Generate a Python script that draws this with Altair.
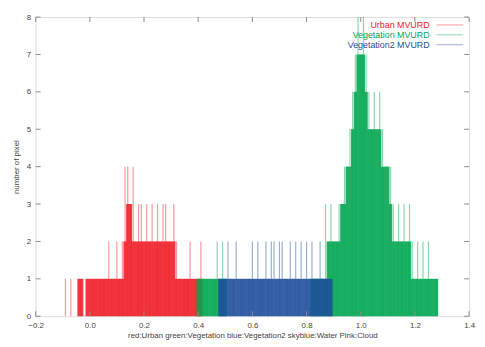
import altair as alt
import pandas as pd

# ---- data ----
series_names = ["Urban MVURD", "Vegetation MVURD", "Vegetation2 MVURD"]
series_colors = ["#ee1c25", "#00a650", "#1f4e9c"]

urban_x = [-0.09, -0.07, -0.04, -0.03, -0.01, 0.00, 0.01, 0.02, 0.03, 0.04, 0.05, 0.06,
           0.07, 0.08, 0.09, 0.10, 0.11, 0.12, 0.13, 0.14, 0.15, 0.16, 0.17, 0.18, 0.19,
           0.20, 0.21, 0.22, 0.23, 0.24, 0.25, 0.26, 0.27, 0.28, 0.29, 0.30, 0.31, 0.32,
           0.33, 0.34, 0.35, 0.36, 0.37, 0.38, 0.39, 0.40, 0.41]
urban_n = [1, 1, 1, 1, 1, 1, 1, 1, 1, 1, 1, 1,
           2, 1, 1, 2, 1, 2, 4, 4, 3, 4, 2, 3, 3,
           2, 3, 2, 3, 2, 3, 2, 3, 3, 2, 2, 3, 2,
           1, 1, 1, 1, 2, 1, 1, 1, 2]

veg_x = [0.40, 0.41, 0.42, 0.43, 0.44, 0.45, 0.46, 0.47, 0.48, 0.49, 0.50,
         0.82, 0.83, 0.84, 0.85, 0.86, 0.87, 0.88, 0.89, 0.90, 0.91, 0.92, 0.93,
         0.94, 0.95, 0.96, 0.97, 0.98, 0.99, 1.00, 1.01, 1.02, 1.03, 1.04, 1.05,
         1.06, 1.07, 1.08, 1.09, 1.10, 1.11, 1.12, 1.13, 1.14, 1.15, 1.16, 1.17,
         1.18, 1.19, 1.20, 1.21, 1.22, 1.23, 1.24, 1.25, 1.26, 1.27, 1.28]
veg_n = [1, 1, 1, 1, 1, 1, 1, 2, 1, 2, 1,
         1, 1, 1, 1, 1, 3, 2, 3, 2, 2, 3, 3,
         4, 4, 5, 6, 7, 8, 7, 8, 7, 6, 5, 6,
         5, 6, 5, 4, 4, 4, 3, 2, 3, 2, 3, 2,
         3, 2, 1, 2, 1, 2, 1, 2, 1, 1, 1]

veg2_x = [0.48, 0.49, 0.50, 0.51, 0.52, 0.53, 0.54, 0.55, 0.56, 0.57, 0.58, 0.59,
          0.60, 0.61, 0.62, 0.63, 0.64, 0.65, 0.66, 0.67, 0.68, 0.69, 0.70, 0.71,
          0.72, 0.73, 0.74, 0.75, 0.76, 0.77, 0.78, 0.79, 0.80, 0.81, 0.82, 0.83,
          0.84, 0.85, 0.86, 0.87, 0.88, 0.89]
veg2_n = [1, 1, 1, 2, 1, 1, 2, 1, 1, 1, 1, 1,
          2, 1, 2, 1, 1, 2, 1, 2, 2, 1, 2, 2,
          1, 1, 2, 1, 2, 1, 2, 1, 2, 1, 2, 1,
          1, 2, 1, 1, 1, 1]

x_ticks = [-0.2, 0, 0.2, 0.4, 0.6, 0.8, 1, 1.2, 1.4]
y_ticks = [0, 1, 2, 3, 4, 5, 6, 7, 8]

x_title = "red:Urban green:Vegetation blue:Vegetation2 skyblue:Water Pink:Cloud"
y_title = "number of pixel"

assert len(urban_x) == len(urban_n)
assert len(veg_x) == len(veg_n)
assert len(veg2_x) == len(veg2_n)

rows = []
for name, xs, ns in zip(series_names, [urban_x, veg_x, veg2_x], [urban_n, veg_n, veg2_n]):
    for xv, nv in zip(xs, ns):
        rows.append({"series": name, "x": xv, "n": nv})
df = pd.DataFrame(rows)

W, H = 439, 303
FONT = "Liberation Sans"
GRAY = "#8a8a8a"
TXT = "#444444"

xscale = alt.Scale(domain=[-0.2, 1.4], nice=False, zero=False)
yscale = alt.Scale(domain=[0, 8], nice=False)
cscale = alt.Scale(domain=series_names, range=series_colors)

x_axis = alt.Axis(values=x_ticks, title=x_title, grid=False, ticks=False,
                  domain=False, labelFontSize=8, labelPadding=5, labelOverlap=False,
                  titleFontSize=8, titlePadding=3, labelColor=TXT,
                  titleColor=TXT, titleFontWeight="normal",
                  labelFont=FONT, titleFont=FONT, labelFlush=False)
y_axis = alt.Axis(values=y_ticks, title=y_title, grid=False, ticks=False,
                  domain=False, labelFontSize=8, labelPadding=5, labelOverlap=False,
                  titleFontSize=8, titlePadding=6, labelColor=TXT,
                  titleColor=TXT, titleFontWeight="normal",
                  labelFont=FONT, titleFont=FONT, format="d")

# neighbour-aware level: where adjacent impulses reach the same level it looks solid
base = alt.Chart(df).transform_window(
    lagn="lag(n)", leadn="lead(n)", lagx="lag(x)", leadx="lead(x)",
    groupby=["series"], sort=[alt.SortField("x")],
).transform_calculate(
    nl="(datum.lagx != null && datum.x - datum.lagx < 0.015) ? datum.lagn : 0",
    nr="(datum.leadx != null && datum.leadx - datum.x < 0.015) ? datum.leadn : 0",
).transform_calculate(
    solidn=("(datum.nl > 0 && datum.nr > 0) ? min(datum.n, datum.nl, datum.nr) : "
            "((datum.nl > 0 || datum.nr > 0) ? min(datum.n, max(datum.nl, datum.nr)) : 0)"),
)

solid = base.mark_rule(strokeWidth=3.3, opacity=0.85).encode(
    x=alt.X("x:Q", scale=xscale, axis=x_axis),
    y=alt.Y("solidn:Q", scale=yscale, axis=y_axis),
    y2=alt.datum(0),
    color=alt.Color("series:N", scale=cscale, legend=None),
)
# thin pale impulse lines reaching each full count
thin = base.mark_rule(strokeWidth=1.2, opacity=0.45).encode(
    x=alt.X("x:Q", scale=xscale, axis=x_axis),
    y=alt.Y("n:Q", scale=yscale, axis=y_axis),
    y2=alt.datum(0),
    color=alt.Color("series:N", scale=cscale, legend=None),
)

xt = pd.DataFrame({"t": x_ticks})
yt = pd.DataFrame({"t": y_ticks})
tick_style = dict(color=GRAY, strokeWidth=1)
xb = alt.Chart(xt).mark_rule(**tick_style).encode(
    x=alt.X("t:Q", scale=xscale, axis=x_axis), y=alt.value(H), y2=alt.value(H - 5))
xtop = alt.Chart(xt).mark_rule(**tick_style).encode(
    x=alt.X("t:Q", scale=xscale, axis=x_axis), y=alt.value(0), y2=alt.value(5))
yl = alt.Chart(yt).mark_rule(**tick_style).encode(
    y=alt.Y("t:Q", scale=yscale, axis=y_axis), x=alt.value(0), x2=alt.value(5))
yr = alt.Chart(yt).mark_rule(**tick_style).encode(
    y=alt.Y("t:Q", scale=yscale, axis=y_axis), x=alt.value(W), x2=alt.value(W - 5))

legend_layers = []
for i, (name, col) in enumerate(zip(series_names, series_colors)):
    ldf = pd.DataFrame({"label": [name]})
    yy = 8 + 10 * i
    legend_layers.append(
        alt.Chart(ldf).mark_text(align="right", baseline="middle", fontSize=9,
                                 font=FONT, color=col).encode(
            text="label:N", x=alt.value(W - 40), y=alt.value(yy)))
    legend_layers.append(
        alt.Chart(ldf).mark_rule(color=col, strokeWidth=1, opacity=0.45).encode(
            x=alt.value(W - 33), x2=alt.value(W - 6), y=alt.value(yy)))

chart = alt.layer(thin, solid, xb, xtop, yl, yr, *legend_layers).properties(
    width=W, height=H,
    autosize=alt.AutoSizeParams(type="none"),
    padding={"left": 28, "top": 7, "right": 8, "bottom": 30},
).configure_view(stroke=GRAY, strokeWidth=1.5).configure(background="white")

chart.save("out.html", embed_options={"renderer": "svg", "actions": False})
